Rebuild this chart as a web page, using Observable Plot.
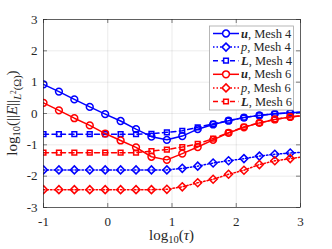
<!DOCTYPE html>
<html>
<head>
<meta charset="utf-8">
<script src="https://cdn.jsdelivr.net/npm/d3@7"></script>
<script src="https://cdn.jsdelivr.net/npm/@observablehq/plot@0.6"></script>
<style>
  html, body { margin: 0; padding: 0; background: white; }
  #chart { width: 332px; height: 249px; }
</style>
</head>
<body>
<div id="chart"></div>
<script>
// log10(tau) sample positions (last one lies just beyond the axis and is clipped)
const logTau = [-1, -0.76, -0.52, -0.28, -0.04, 0.2, 0.44, 0.68, 0.92, 1.16, 1.4, 1.64, 1.88, 2.12, 2.36, 2.6, 2.84, 3.08];

const uMesh4 = [0.93, 0.70, 0.45, 0.21, -0.02, -0.24, -0.50, -0.74, -0.84, -0.72, -0.50, -0.35, -0.23, -0.13, -0.06, -0.01, 0.02, 0.05];
const pMesh4 = [-1.80, -1.80, -1.80, -1.80, -1.80, -1.80, -1.80, -1.80, -1.80, -1.75, -1.68, -1.58, -1.51, -1.44, -1.36, -1.30, -1.26, -1.23];
const LMesh4 = [-0.66, -0.66, -0.66, -0.66, -0.66, -0.66, -0.66, -0.65, -0.60, -0.55, -0.44, -0.33, -0.23, -0.13, -0.06, -0.01, 0.02, 0.05];
const uMesh6 = [0.34, 0.10, -0.15, -0.38, -0.64, -0.86, -1.08, -1.38, -1.48, -1.28, -1.07, -0.84, -0.62, -0.44, -0.30, -0.19, -0.11, -0.06];
const pMesh6 = [-2.43, -2.43, -2.43, -2.43, -2.43, -2.43, -2.43, -2.43, -2.42, -2.34, -2.21, -2.10, -1.94, -1.81, -1.63, -1.51, -1.44, -1.37];
const LMesh6 = [-1.25, -1.25, -1.25, -1.25, -1.25, -1.25, -1.25, -1.20, -1.15, -1.07, -0.97, -0.80, -0.61, -0.43, -0.30, -0.19, -0.11, -0.06];

const xTicks = [-1, 0, 1, 2, 3];
const yTicks = [-3, -2, -1, 0, 1, 2, 3];

const seriesDefs = [
  {name: "u",  mesh: "4", values: uMesh4, color: "#0000ff", dash: null,    symbol: "circle",   r: 3.4},
  {name: "p",  mesh: "4", values: pMesh4, color: "#0000ff", dash: "1.5,2", symbol: "diamond2", r: 3.6},
  {name: "L",  mesh: "4", values: LMesh4, color: "#0000ff", dash: "5,3.5", symbol: "square2",  r: 3.0},
  {name: "u",  mesh: "6", values: uMesh6, color: "#ff0000", dash: null,    symbol: "circle",   r: 3.4},
  {name: "p",  mesh: "6", values: pMesh6, color: "#ff0000", dash: "1.5,2", symbol: "diamond2", r: 3.6},
  {name: "L",  mesh: "6", values: LMesh6, color: "#ff0000", dash: "5,3.5", symbol: "square2",  r: 3.0}
];

const W = 332, H = 249, mL = 43, mR = 32, mT = 19, mB = 42;
const plotW = W - mL - mR, plotH = H - mT - mB;
const axisColor = "#262626";
const FONT = "Liberation Serif, Times New Roman, serif";

const marks = [
  Plot.gridX(xTicks, {stroke: "#000", strokeOpacity: 0.1, strokeWidth: 0.8}),
  Plot.gridY(yTicks, {stroke: "#000", strokeOpacity: 0.1, strokeWidth: 0.8}),
];
for (const s of seriesDefs) {
  const rows = logTau.map((x, i) => ({x, y: s.values[i]}));
  marks.push(Plot.line(rows, {x: "x", y: "y", stroke: s.color, strokeWidth: 1.5, strokeDasharray: s.dash, clip: true}));
  marks.push(Plot.dot(rows, {x: "x", y: "y", symbol: () => s.symbol, r: s.r, stroke: s.color, fill: "none", strokeWidth: 1.5, clip: true}));
}
marks.push(
  Plot.tickX(xTicks, {x: d => d, insetTop: plotH - 4, stroke: axisColor, strokeWidth: 0.6}),
  Plot.tickX(xTicks, {x: d => d, insetBottom: plotH - 4, stroke: axisColor, strokeWidth: 0.6}),
  Plot.tickY(yTicks, {y: d => d, insetRight: plotW - 4, stroke: axisColor, strokeWidth: 0.6}),
  Plot.tickY(yTicks, {y: d => d, insetLeft: plotW - 4, stroke: axisColor, strokeWidth: 0.6}),
  Plot.frame({stroke: axisColor, strokeWidth: 0.7}),
  Plot.axisX({ticks: xTicks, tickSize: 0, tickPadding: 9, fontSize: 13, fontFamily: FONT, label: null, fill: axisColor, tickFormat: d => String(d)}),
  Plot.axisY({ticks: yTicks, tickSize: 0, tickPadding: 6, fontSize: 13, fontFamily: FONT, label: null, fill: axisColor, tickFormat: d => String(d)})
);

const chart = Plot.plot({
  width: W, height: H,
  marginLeft: mL, marginRight: mR, marginTop: mT, marginBottom: mB,
  x: {domain: [-1, 3]},
  y: {domain: [-3, 3]},
  style: {fontFamily: FONT, background: "white", color: axisColor},
  marks
});
document.getElementById("chart").appendChild(chart);

const svg = d3.select(chart);

// x label: log10(tau)
const xl = svg.append("text")
  .attr("x", mL + plotW / 2).attr("y", 240)
  .attr("text-anchor", "middle")
  .attr("font-family", FONT).attr("font-size", 15).attr("fill", axisColor);
xl.append("tspan").text("log");
xl.append("tspan").attr("font-size", 10.5).attr("dy", 3).text("10");
xl.append("tspan").attr("dy", -3).text("(");
xl.append("tspan").attr("font-style", "italic").text("τ");
xl.append("tspan").text(")");

// y label: log10(||E||_{L^2(Omega)})
const yl = svg.append("text")
  .attr("transform", `translate(17,${mT + plotH / 2}) rotate(-90)`)
  .attr("text-anchor", "middle")
  .attr("font-family", FONT).attr("font-size", 15).attr("fill", axisColor);
yl.append("tspan").text("log");
yl.append("tspan").attr("font-size", 10.5).attr("dy", 3).text("10");
yl.append("tspan").attr("dy", -3).text("(||");
yl.append("tspan").attr("font-style", "italic").text("E");
yl.append("tspan").text("||");
yl.append("tspan").attr("font-size", 10.5).attr("dy", 4).attr("font-style", "italic").text("L");
yl.append("tspan").attr("font-size", 7.5).attr("dy", -5).text("2");
yl.append("tspan").attr("font-size", 10.5).attr("dy", 5).text("(Ω)");
yl.append("tspan").attr("dy", -4).text(")");

// legend
const lg = svg.append("g");
const lx = 209.5, ly = 26, lw = 84, lh = 84;
lg.append("rect").attr("x", lx).attr("y", ly).attr("width", lw).attr("height", lh)
  .attr("fill", "white").attr("stroke", "#a6a6a6").attr("stroke-width", 0.8);
const symMap = {circle: d3.symbolCircle, diamond2: d3.symbolDiamond2, square2: d3.symbolSquare2};
seriesDefs.forEach((s, i) => {
  const cy = 33.5 + i * 13.6;
  lg.append("line").attr("x1", 213).attr("x2", 239).attr("y1", cy).attr("y2", cy)
    .attr("stroke", s.color).attr("stroke-width", 1.5)
    .attr("stroke-dasharray", s.dash || null);
  lg.append("path")
    .attr("transform", `translate(226,${cy})`)
    .attr("d", d3.symbol(symMap[s.symbol], Math.PI * s.r * s.r)())
    .attr("fill", "white").attr("stroke", s.color).attr("stroke-width", 1.5);
  const t = lg.append("text").attr("x", 241).attr("y", cy + 4)
    .attr("text-anchor", "start")
    .attr("font-family", FONT).attr("font-size", 12.5).attr("fill", axisColor);
  const nm = t.append("tspan").attr("font-style", "italic").text(s.name);
  if (s.name !== "p") nm.attr("font-weight", "bold");
  t.append("tspan").text(", Mesh " + s.mesh);
});
</script>
</body>
</html>
